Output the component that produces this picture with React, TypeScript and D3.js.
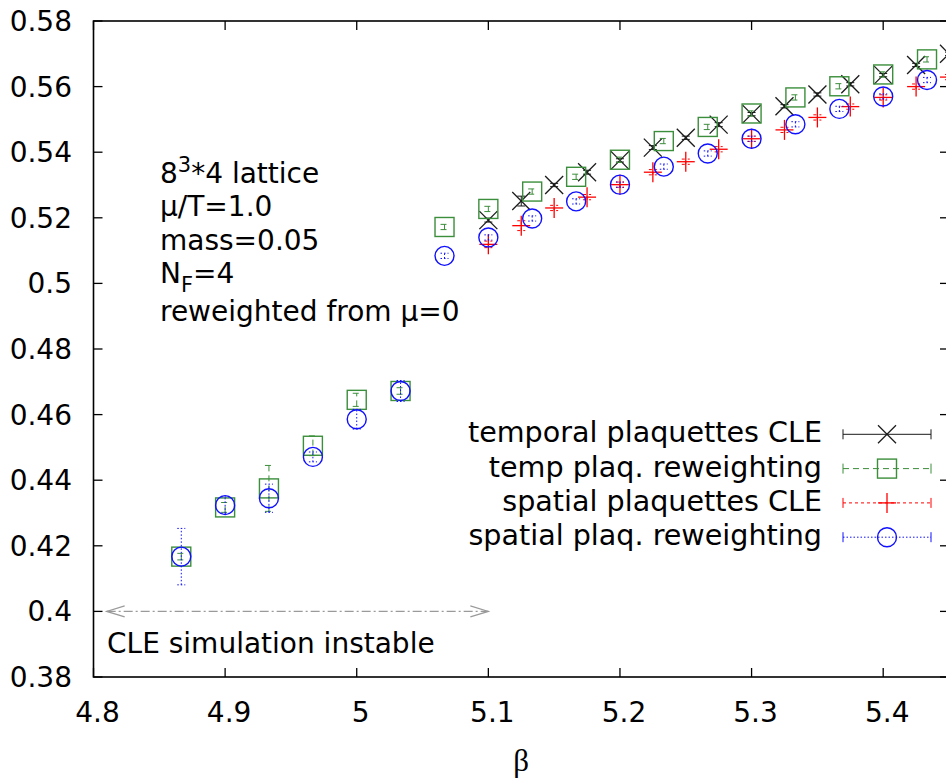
import React from "react";
import * as d3 from "d3";

// ---------- data ----------
const betaReweight = [4.8667, 4.9, 4.9333, 4.9667, 5.0, 5.0333, 5.0667, 5.1, 5.1333, 5.1667, 5.2, 5.2333, 5.2667, 5.3, 5.3333, 5.3667, 5.4, 5.4333];
const betaCLE = [5.1, 5.125, 5.15, 5.175, 5.2, 5.225, 5.25, 5.275, 5.3, 5.325, 5.35, 5.375, 5.4, 5.425, 5.45];

const temporalCLE = [0.5193, 0.5251, 0.5300, 0.5339, 0.5375, 0.5414, 0.5444, 0.5484, 0.5516, 0.5540, 0.5576, 0.5607, 0.5635, 0.5666, 0.5700];
const temporalCLEErr = [0.0006, 0.0015, 0.0005, 0.0006, 0.0005, 0.0006, 0.0005, 0.0006, 0.0005, 0.0005, 0.0005, 0.0005, 0.0005, 0.0005, 0.0005];

const temporalRew = [0.4167, 0.4317, 0.4375, 0.4505, 0.4645, 0.4672, 0.5172, 0.5227, 0.5280, 0.5325, 0.5377, 0.5434, 0.5477, 0.5518, 0.5567, 0.5601, 0.5637, 0.5683];
const temporalRewErr = [0.001, 0.0015, 0.007, 0.003, 0.002, 0.001, 0.0008, 0.0008, 0.0008, 0.0008, 0.0008, 0.0008, 0.0008, 0.0008, 0.0008, 0.0008, 0.0008, 0.0008];

const spatialCLE = [0.5119, 0.5176, 0.5230, 0.5263, 0.5301, 0.5339, 0.5371, 0.5409, 0.5441, 0.5468, 0.5506, 0.5539, 0.5567, 0.5600, 0.5629];
const spatialCLEErr = [0.0010, 0.0015, 0.0008, 0.0008, 0.0008, 0.0008, 0.0008, 0.0008, 0.0008, 0.0008, 0.0008, 0.0008, 0.0008, 0.0008, 0.0008];

const spatialRew = [0.4167, 0.4324, 0.4345, 0.4471, 0.4586, 0.4672, 0.5084, 0.5140, 0.5198, 0.5250, 0.5301, 0.5356, 0.5396, 0.5441, 0.5485, 0.5532, 0.5570, 0.5620];
const spatialRewErr = [0.0086, 0.0025, 0.0043, 0.0015, 0.003, 0.0032, 0.0008, 0.0008, 0.0008, 0.0008, 0.0008, 0.0008, 0.0008, 0.0008, 0.0008, 0.0008, 0.0008, 0.0008];

const xTickValues = [4.8, 4.9, 5.0, 5.1, 5.2, 5.3, 5.4];
const xTickLabels = ["4.8", "4.9", "5", "5.1", "5.2", "5.3", "5.4"];
const yTickValues = [0.38, 0.4, 0.42, 0.44, 0.46, 0.48, 0.5, 0.52, 0.54, 0.56, 0.58];
const yTickLabels = ["0.38", "0.4", "0.42", "0.44", "0.46", "0.48", "0.5", "0.52", "0.54", "0.56", "0.58"];

const legendLabels = ["temporal plaquettes CLE", "temp plaq. reweighting", "spatial plaquettes CLE", "spatial plaq. reweighting"];
const arrowFrom = 4.81;
const arrowTo = 5.1;
const arrowAt = 0.4;

// ---------- layout ----------
const W = 946;
const H = 779;
const FONT = "'DejaVu Sans', sans-serif";
const x = d3.scaleLinear().domain([4.8, 5.45]).range([93.5, 949]);
const y = d3.scaleLinear().domain([0.38, 0.58]).range([677, 21]);

const BLACK = "#1a1a1a";
const GREEN = "#3b8e3b";
const RED = "#ff0000";
const BLUE = "#1010ff";

type Kind = "x" | "square" | "plus" | "circle";

function Marker({ cx, cy, kind, color }: { cx: number; cy: number; kind: Kind; color: string }) {
  const s = 9;
  if (kind === "x")
    return (
      <g stroke={color} strokeWidth={1.3}>
        <line x1={cx - s} y1={cy - s} x2={cx + s} y2={cy + s} />
        <line x1={cx - s} y1={cy + s} x2={cx + s} y2={cy - s} />
      </g>
    );
  if (kind === "plus")
    return (
      <g stroke={color} strokeWidth={1.3}>
        <line x1={cx - s} y1={cy} x2={cx + s} y2={cy} />
        <line x1={cx} y1={cy - s - 1} x2={cx} y2={cy + s + 1} />
      </g>
    );
  if (kind === "square")
    return <rect x={cx - 9.5} y={cy - 9.5} width={19} height={19} fill="none" stroke={color} strokeWidth={1.4} />;
  return <circle cx={cx} cy={cy} r={9.5} fill="none" stroke={color} strokeWidth={1.4} />;
}

function Series({ xs, ys, es, kind, color, dash }: { xs: number[]; ys: number[]; es: number[]; kind: Kind; color: string; dash?: string }) {
  return (
    <g>
      {xs.map((b, i) => {
        const cx = x(b);
        const y0 = y(ys[i] - es[i]);
        const y1 = y(ys[i] + es[i]);
        return (
          <g key={i}>
            <g stroke={color} strokeWidth={1} strokeDasharray={dash}>
              <line x1={cx} y1={y0} x2={cx} y2={y1} />
              <line x1={cx - 4} y1={y0} x2={cx + 4} y2={y0} />
              <line x1={cx - 4} y1={y1} x2={cx + 4} y2={y1} />
            </g>
            <Marker cx={cx} cy={y(ys[i])} kind={kind} color={color} />
          </g>
        );
      })}
    </g>
  );
}

const seriesDefs: { kind: Kind; color: string; dash?: string }[] = [
  { kind: "x", color: BLACK },
  { kind: "square", color: GREEN, dash: "6 4" },
  { kind: "plus", color: RED, dash: "3 3" },
  { kind: "circle", color: BLUE, dash: "1.5 2" },
];

export default function App() {
  const xL = x.range()[0];
  const xR = x.range()[1];
  const yB = y.range()[0];
  const yT = y.range()[1];
  const ay = y(arrowAt);
  const ax0 = x(arrowFrom);
  const ax1 = x(arrowTo);

  const legendLineY = [434.3, 468.6, 502.9, 537.2];

  return (
    <svg width={W} height={H} style={{ position: "absolute", left: 0, top: 0, background: "#fff" }} fontFamily={FONT}>
      <rect x={0} y={0} width={W} height={H} fill="#fff" />

      {/* ticks */}
      <g stroke="#000" strokeWidth={1.3}>
        {xTickValues.map((v, i) => (
          <g key={"xt" + i}>
            <line x1={x(v)} y1={yB} x2={x(v)} y2={yB - 9} />
            <line x1={x(v)} y1={yT} x2={x(v)} y2={yT + 9} />
          </g>
        ))}
        {yTickValues.map((v, i) => (
          <g key={"yt" + i}>
            <line x1={xL} y1={y(v)} x2={xL + 9} y2={y(v)} />
            <line x1={xR} y1={y(v)} x2={xR - 9} y2={y(v)} />
          </g>
        ))}
      </g>

      {/* tick labels */}
      <g fontSize={28} fill="#000">
        {xTickValues.map((v, i) => (
          <text key={"xl" + i} x={x(v) + 4} y={722} textAnchor="middle">
            {xTickLabels[i]}
          </text>
        ))}
        {yTickValues.map((v, i) => (
          <text key={"yl" + i} x={72} y={y(v) + 10} textAnchor="end">
            {yTickLabels[i]}
          </text>
        ))}
      </g>

      {/* axis label */}
      <text x={(xL + xR) / 2} y={771} textAnchor="middle" fontFamily="'Liberation Serif', serif" fontSize={31}>
        β
      </text>

      {/* annotation text */}
      <g fontSize={28} fill="#000">
        <text x={160} y={183}>
          8<tspan fontSize={21} dy={-11}>3</tspan>
          <tspan dy={11}>*4 lattice</tspan>
        </text>
        <text x={160} y={216}>μ/T=1.0</text>
        <text x={160} y={250}>mass=0.05</text>
        <text x={160} y={283}>
          N<tspan fontSize={21} dy={9}>F</tspan>
          <tspan dy={-9}>=4</tspan>
        </text>
        <text x={160} y={321}>reweighted from μ=0</text>
        <text x={107} y={653}>CLE simulation instable</text>
      </g>

      {/* arrow */}
      <g stroke="#9a9a9a" strokeWidth={1.2} fill="none">
        <line x1={ax0} y1={ay} x2={ax1} y2={ay} strokeDasharray="9 3 2 3" />
        <polyline points={`${ax0 + 18},${ay - 5.5} ${ax0},${ay} ${ax0 + 18},${ay + 5.5}`} />
        <polyline points={`${ax1 - 18},${ay - 5.5} ${ax1},${ay} ${ax1 - 18},${ay + 5.5}`} />
      </g>

      {/* data */}
      <Series xs={betaCLE} ys={temporalCLE} es={temporalCLEErr} {...seriesDefs[0]} />
      <Series xs={betaReweight} ys={temporalRew} es={temporalRewErr} {...seriesDefs[1]} />
      <Series xs={betaCLE} ys={spatialCLE} es={spatialCLEErr} {...seriesDefs[2]} />
      <Series xs={betaReweight} ys={spatialRew} es={spatialRewErr} {...seriesDefs[3]} />

      {/* legend */}
      {legendLabels.map((lab, i) => {
        const ly = legendLineY[i];
        const d = seriesDefs[i];
        return (
          <g key={"lg" + i}>
            <text x={822} y={ly + 8} textAnchor="end" fontSize={28.6}>
              {lab}
            </text>
            <g stroke={d.color} strokeWidth={1} strokeDasharray={d.dash}>
              <line x1={843} y1={ly} x2={931} y2={ly} />
            </g>
            <g stroke={d.color} strokeWidth={1}>
              <line x1={843} y1={ly - 5} x2={843} y2={ly + 5} />
              <line x1={931} y1={ly - 5} x2={931} y2={ly + 5} />
            </g>
            <Marker cx={887} cy={ly} kind={d.kind} color={d.color} />
          </g>
        );
      })}

      {/* frame */}
      <rect x={xL} y={yT} width={xR - xL} height={yB - yT} fill="none" stroke="#000" strokeWidth={1.6} />
    </svg>
  );
}
